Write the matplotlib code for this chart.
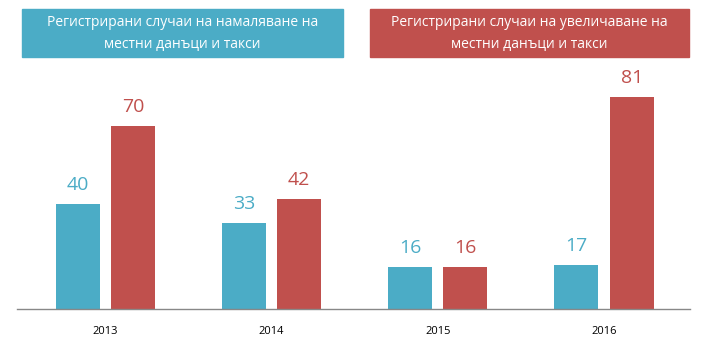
import matplotlib
matplotlib.use('Agg')
import matplotlib.pyplot as plt
from matplotlib.patches import Rectangle
import numpy as np

godine = ['2013', '2014', '2015', '2016']
namaljavane = [40, 33, 16, 17]
uvelichavane = [70, 42, 16, 81]
zaglavie_1 = 'Регистрирани случаи на намаляване на\nместни данъци и такси'
zaglavie_2 = 'Регистрирани случаи на увеличаване на\nместни данъци и такси'

SIN = '#4BACC6'
CHERVEN = '#C0504D'
W, H = 710, 354

fig = plt.figure(figsize=(W / 100, H / 100), dpi=100)
ax = fig.add_axes([17 / W, 45 / H, 673 / W, 224 / H])

x = np.arange(len(godine))
sh = 0.265
ax.bar(x - 0.166, namaljavane, width=sh, color=SIN)
ax.bar(x + 0.166, uvelichavane, width=sh, color=CHERVEN)
for xi, v in zip(x, namaljavane):
    ax.text(xi - 0.166, v + 3.8, str(v), ha='center', va='bottom', color=SIN, fontsize=14, family='Open Sans')
for xi, v in zip(x, uvelichavane):
    ax.text(xi + 0.166, v + 3.8, str(v), ha='center', va='bottom', color=CHERVEN, fontsize=14, family='Open Sans')

ax.set_xlim(-0.532, 3.517)
ax.set_ylim(0, 85.6)
ax.set_xticks(x)
ax.set_xticklabels(godine, fontsize=8, family='Open Sans')
ax.tick_params(axis='x', length=0, pad=12)
ax.set_yticks([])
for s in ['left', 'right', 'top']:
    ax.spines[s].set_visible(False)
ax.spines['bottom'].set_color('#888888')
ax.spines['bottom'].set_linewidth(1)

# zaglavija
for x0, x1, boja, tekst in [(22, 343, SIN, zaglavie_1), (370, 689, CHERVEN, zaglavie_2)]:
    fig.patches.append(Rectangle((x0 / W, 1 - 57 / H), (x1 - x0) / W, 48 / H,
                                 transform=fig.transFigure, color=boja, zorder=0))
    fig.text((x0 + x1) / 2 / W, 1 - 33.5 / H, tekst, ha='center', va='center', color='white',
             fontsize=10, family='Open Sans', linespacing=1.55)

plt.savefig('out.png', dpi=100)
